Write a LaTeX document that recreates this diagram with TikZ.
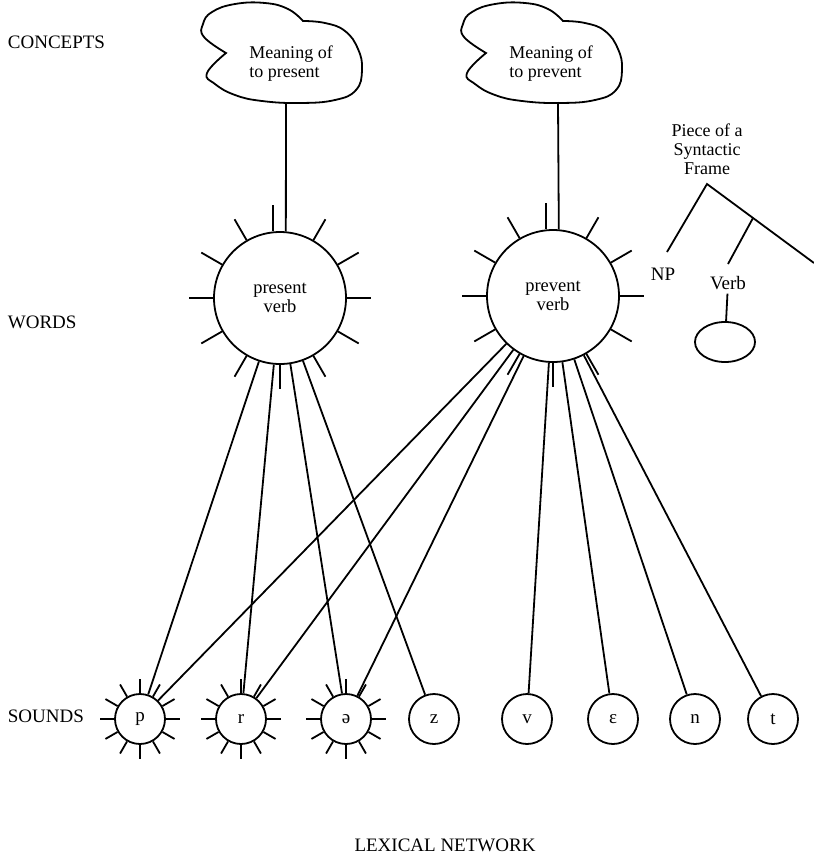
\documentclass[tikz,border=0pt]{standalone}
\usepackage{fontspec}
\setmainfont{Liberation Serif}
\usetikzlibrary{shapes.geometric}
\begin{document}
\begin{tikzpicture}[x=1pt,y=1pt, line width=1.8pt,
  txt/.style={font=\fontsize{19}{17}\selectfont, inner sep=0pt},
  multi/.style={font=\fontsize{18}{19}\selectfont, inner sep=0pt},
  wordnode/.style={circle, draw, minimum size=132pt, inner sep=0pt, align=center, font=\fontsize{18.5}{19}\selectfont},
  soundnode/.style={circle, draw, minimum size=50pt, inner sep=0pt, font=\fontsize{19}{17}\selectfont},
  layer/.style={anchor=west, inner sep=0pt, font=\fontsize{19}{17}\selectfont},
  cloudpic/.pic={
    \draw plot[smooth, tension=0.75] coordinates {(226,-53) (204,-37) (203,-24) (212,-12) (235,-4) (265,-3) (288,-9) (303,-21)}
      -- plot[smooth, tension=0.75] coordinates {(303,-21) (325,-23) (345,-31) (358,-49) (362,-70) (356,-90) (335,-100) (300,-103) (262,-101) (235,-95) (215,-84) (207,-73) (226,-53)} -- cycle;
  }]
\useasboundingbox (0,0) rectangle (814,-868);

% layer labels
\node[layer] (lc) at (7,-42) {CONCEPTS};
\node[layer] (lw) at (7,-322) {WORDS};
\node[layer] (ls) at (7,-716) {SOUNDS};
\node[txt] (ln) at (445,-845) {LEXICAL NETWORK};

% concepts
\pic (cloudA) at (0,0) {cloudpic};
\pic (cloudB) at (260,0) {cloudpic};
\node[multi, align=left] (mA) at (291,-64) {Meaning of\\to present};
\node[multi, align=left] (mB) at (551,-64) {Meaning of\\to prevent};
\coordinate (cAb) at (286,-102);
\coordinate (cBb) at (558,-102);

% words
\node[wordnode] (present) at (280,-298) {present\\verb};
\node[wordnode] (prevent) at (553,-296) {prevent\\verb};
\draw (cAb) -- (present.85);
\draw (cBb) -- (prevent.85);
\foreach \w in {present,prevent}{
  \foreach \a in {0,30,60,120,150,180,210,240,270,300,330}
    \draw (\w.\a) -- ++(\a:24);
  \draw (\w.96) -- ++(0,26);
}

% syntactic frame
\node[multi, align=center] (frame) at (707,-149) {Piece of a\\Syntactic\\Frame};
\coordinate (apex) at (707,-184);
\coordinate (npEnd) at (667,-252);
\coordinate (fork) at (753,-218);
\coordinate (verbEnd) at (728,-264);
\coordinate (rightEnd) at (814,-263);
\draw (npEnd) -- (apex) -- (rightEnd);
\draw (fork) -- (verbEnd);
\node[txt] (np) at (663,-274) {NP};
\node[txt, inner sep=3pt] (verb) at (728,-283) {Verb};
\node[ellipse, draw, minimum width=60, minimum height=40, inner sep=0pt] (vobj) at (725,-342) {};
\draw (verb) -- (vobj);

% sounds
\node[soundnode] (p) at (140,-719) {p};
\node[soundnode] (r) at (241,-719) {r};
\node[soundnode] (schwa) at (346,-719) {ə};
\node[soundnode] (z) at (434,-719) {z};
\node[soundnode] (v) at (527,-719) {v};
\node[soundnode] (eps) at (613,-719) {ɛ};
\node[soundnode] (n) at (695,-719) {n};
\node[soundnode] (t) at (773,-719) {t};
\foreach \s in {p,r,schwa}
  \foreach \a in {0,30,...,330}
    \draw (\s.\a) -- ++(\a:14);

% links
\foreach \s in {p,r,schwa,z}
  \draw (present) -- (\s);
\foreach \s in {p,r,schwa,v,eps,n,t}
  \draw (prevent) -- (\s);
\end{tikzpicture}
\end{document}
